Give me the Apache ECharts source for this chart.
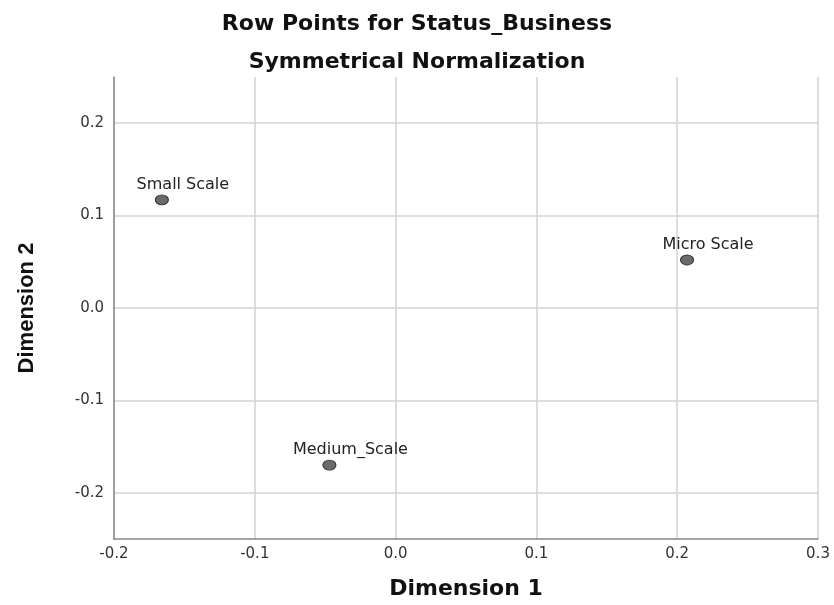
<!DOCTYPE html>
<html>
<head>
<meta charset="utf-8">
<script src="https://cdn.jsdelivr.net/npm/echarts@6/dist/echarts.min.js"></script>
<style>html,body{margin:0;padding:0;background:#fff;}#c{width:834px;height:605px;}</style>
</head>
<body>
<div id="c"></div>
<script>
const categories = ['Small Scale', 'Micro Scale', 'Medium_Scale'];
const dim1 = [-0.166, 0.207, -0.047];
const dim2 = [0.117, 0.052, -0.170];
const xTicks = [-0.2, -0.1, 0.0, 0.1, 0.2, 0.3];
const yTicks = [-0.2, -0.1, 0.0, 0.1, 0.2];

const chart = echarts.init(document.getElementById('c'), null, {renderer: 'canvas'});
const pts = categories.map((c, i) => ({name: c, value: [dim1[i], dim2[i]]}));
chart.setOption({
  animation: false,
  backgroundColor: '#fff',
  title: [
    {text: 'Row Points for Status_Business', left: 'center', top: 8,
     textStyle: {fontFamily: 'DejaVu Sans', fontWeight: 'bold', fontSize: 22, color: '#111'}},
    {text: 'Symmetrical Normalization', left: 'center', top: 46,
     textStyle: {fontFamily: 'DejaVu Sans', fontWeight: 'bold', fontSize: 22, color: '#111'}}
  ],
  grid: {left: 114, right: 16, top: 77, bottom: 63, containLabel: false},
  xAxis: {
    type: 'value', min: -0.2, max: 0.3, interval: 0.1,
    name: 'Dimension 1', nameLocation: 'middle', nameGap: 39,
    nameTextStyle: {fontFamily: 'DejaVu Sans', fontWeight: 'bold', fontSize: 22, color: '#111'},
    axisLine: {show: true, onZero: false, lineStyle: {color: '#888', width: 1.5}},
    axisTick: {show: false},
    axisLabel: {margin: 8, fontFamily: 'DejaVu Sans', fontSize: 15, color: '#333',
      formatter: v => v.toFixed(1)},
    splitLine: {show: true, lineStyle: {color: '#d2d2d2', width: 1.5}}
  },
  yAxis: {
    type: 'value', min: -0.25, max: 0.25,
    name: 'Dimension 2', nameLocation: 'middle', nameGap: 76,
    nameTextStyle: {fontFamily: 'Liberation Sans', fontWeight: 'bold', fontSize: 22, color: '#111'},
    axisLine: {show: true, onZero: false, lineStyle: {color: '#888', width: 1.5}},
    axisTick: {show: false, customValues: yTicks},
    axisLabel: {margin: 10, fontFamily: 'DejaVu Sans', fontSize: 15, color: '#333',
      customValues: yTicks, formatter: v => v.toFixed(1)},
    splitLine: {show: true, lineStyle: {color: '#d2d2d2', width: 1.5}}
  },
  series: [{
    type: 'scatter',
    data: pts,
    symbol: 'circle',
    symbolSize: [13, 10],
    itemStyle: {color: '#6b6b6b', borderColor: '#333', borderWidth: 1, opacity: 1},
    label: {show: true, position: 'top', distance: 2, offset: [21, 0],
      formatter: p => p.name, fontFamily: 'DejaVu Sans', fontSize: 16, color: '#222'},
    emphasis: {disabled: true}
  }]
});
</script>
</body>
</html>
